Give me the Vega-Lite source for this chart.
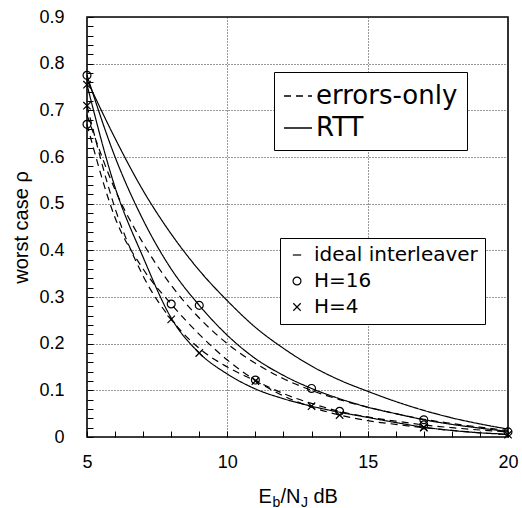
{
  "$schema": "https://vega.github.io/schema/vega-lite/v6.json",
  "width": 421,
  "height": 420,
  "autosize": {"type": "none"},
  "padding": {"left": 87, "top": 17, "right": 14, "bottom": 71},
  "background": "white",
  "config": {
    "font": "Liberation Sans",
    "view": {"stroke": "black", "strokeWidth": 1.6, "fill": "white"},
    "axisX": {
      "titleFont": "Liberation Sans",
      "titleFontWeight": "normal",
      "titleColor": "black",
      "titleAlign": "left",
      "titleBaseline": "alphabetic",
      "titleAnchor": "start"
    }
  },
  "data": {
    "values": [
      {"snr": 5, "rho": 0.765, "decoder": "RTT", "interleaver": "ideal interleaver", "mk": false},
      {"snr": 6, "rho": 0.64, "decoder": "RTT", "interleaver": "ideal interleaver", "mk": false},
      {"snr": 7, "rho": 0.528, "decoder": "RTT", "interleaver": "ideal interleaver", "mk": false},
      {"snr": 8, "rho": 0.435, "decoder": "RTT", "interleaver": "ideal interleaver", "mk": false},
      {"snr": 9, "rho": 0.357, "decoder": "RTT", "interleaver": "ideal interleaver", "mk": false},
      {"snr": 10, "rho": 0.292, "decoder": "RTT", "interleaver": "ideal interleaver", "mk": false},
      {"snr": 11, "rho": 0.235, "decoder": "RTT", "interleaver": "ideal interleaver", "mk": false},
      {"snr": 12, "rho": 0.19, "decoder": "RTT", "interleaver": "ideal interleaver", "mk": false},
      {"snr": 13, "rho": 0.152, "decoder": "RTT", "interleaver": "ideal interleaver", "mk": false},
      {"snr": 14, "rho": 0.122, "decoder": "RTT", "interleaver": "ideal interleaver", "mk": false},
      {"snr": 15, "rho": 0.098, "decoder": "RTT", "interleaver": "ideal interleaver", "mk": false},
      {"snr": 16, "rho": 0.076, "decoder": "RTT", "interleaver": "ideal interleaver", "mk": false},
      {"snr": 17, "rho": 0.057, "decoder": "RTT", "interleaver": "ideal interleaver", "mk": false},
      {"snr": 18, "rho": 0.041, "decoder": "RTT", "interleaver": "ideal interleaver", "mk": false},
      {"snr": 19, "rho": 0.028, "decoder": "RTT", "interleaver": "ideal interleaver", "mk": false},
      {"snr": 20, "rho": 0.017, "decoder": "RTT", "interleaver": "ideal interleaver", "mk": false},

      {"snr": 5, "rho": 0.775, "decoder": "RTT", "interleaver": "H=16", "mk": true},
      {"snr": 6, "rho": 0.6, "decoder": "RTT", "interleaver": "H=16", "mk": false},
      {"snr": 7, "rho": 0.465, "decoder": "RTT", "interleaver": "H=16", "mk": false},
      {"snr": 8, "rho": 0.36, "decoder": "RTT", "interleaver": "H=16", "mk": false},
      {"snr": 9, "rho": 0.282, "decoder": "RTT", "interleaver": "H=16", "mk": true},
      {"snr": 10, "rho": 0.218, "decoder": "RTT", "interleaver": "H=16", "mk": false},
      {"snr": 11, "rho": 0.168, "decoder": "RTT", "interleaver": "H=16", "mk": false},
      {"snr": 12, "rho": 0.132, "decoder": "RTT", "interleaver": "H=16", "mk": false},
      {"snr": 13, "rho": 0.104, "decoder": "RTT", "interleaver": "H=16", "mk": true},
      {"snr": 14, "rho": 0.082, "decoder": "RTT", "interleaver": "H=16", "mk": false},
      {"snr": 15, "rho": 0.064, "decoder": "RTT", "interleaver": "H=16", "mk": false},
      {"snr": 16, "rho": 0.05, "decoder": "RTT", "interleaver": "H=16", "mk": false},
      {"snr": 17, "rho": 0.037, "decoder": "RTT", "interleaver": "H=16", "mk": true},
      {"snr": 18, "rho": 0.027, "decoder": "RTT", "interleaver": "H=16", "mk": false},
      {"snr": 19, "rho": 0.019, "decoder": "RTT", "interleaver": "H=16", "mk": false},
      {"snr": 20, "rho": 0.012, "decoder": "RTT", "interleaver": "H=16", "mk": false},

      {"snr": 5, "rho": 0.755, "decoder": "RTT", "interleaver": "H=4", "mk": true},
      {"snr": 6, "rho": 0.535, "decoder": "RTT", "interleaver": "H=4", "mk": false},
      {"snr": 7, "rho": 0.385, "decoder": "RTT", "interleaver": "H=4", "mk": false},
      {"snr": 8, "rho": 0.255, "decoder": "RTT", "interleaver": "H=4", "mk": false},
      {"snr": 9, "rho": 0.18, "decoder": "RTT", "interleaver": "H=4", "mk": true},
      {"snr": 10, "rho": 0.135, "decoder": "RTT", "interleaver": "H=4", "mk": false},
      {"snr": 11, "rho": 0.103, "decoder": "RTT", "interleaver": "H=4", "mk": false},
      {"snr": 12, "rho": 0.082, "decoder": "RTT", "interleaver": "H=4", "mk": false},
      {"snr": 13, "rho": 0.066, "decoder": "RTT", "interleaver": "H=4", "mk": true},
      {"snr": 14, "rho": 0.053, "decoder": "RTT", "interleaver": "H=4", "mk": false},
      {"snr": 15, "rho": 0.042, "decoder": "RTT", "interleaver": "H=4", "mk": false},
      {"snr": 16, "rho": 0.031, "decoder": "RTT", "interleaver": "H=4", "mk": false},
      {"snr": 17, "rho": 0.021, "decoder": "RTT", "interleaver": "H=4", "mk": true},
      {"snr": 18, "rho": 0.014, "decoder": "RTT", "interleaver": "H=4", "mk": false},
      {"snr": 19, "rho": 0.009, "decoder": "RTT", "interleaver": "H=4", "mk": false},
      {"snr": 20, "rho": 0.006, "decoder": "RTT", "interleaver": "H=4", "mk": false},

      {"snr": 5, "rho": 0.69, "decoder": "errors-only", "interleaver": "ideal interleaver", "mk": false},
      {"snr": 6, "rho": 0.53, "decoder": "errors-only", "interleaver": "ideal interleaver", "mk": false},
      {"snr": 7, "rho": 0.415, "decoder": "errors-only", "interleaver": "ideal interleaver", "mk": false},
      {"snr": 8, "rho": 0.325, "decoder": "errors-only", "interleaver": "ideal interleaver", "mk": false},
      {"snr": 9, "rho": 0.255, "decoder": "errors-only", "interleaver": "ideal interleaver", "mk": false},
      {"snr": 10, "rho": 0.2, "decoder": "errors-only", "interleaver": "ideal interleaver", "mk": false},
      {"snr": 11, "rho": 0.158, "decoder": "errors-only", "interleaver": "ideal interleaver", "mk": false},
      {"snr": 12, "rho": 0.125, "decoder": "errors-only", "interleaver": "ideal interleaver", "mk": false},
      {"snr": 13, "rho": 0.1, "decoder": "errors-only", "interleaver": "ideal interleaver", "mk": false},
      {"snr": 14, "rho": 0.08, "decoder": "errors-only", "interleaver": "ideal interleaver", "mk": false},
      {"snr": 15, "rho": 0.064, "decoder": "errors-only", "interleaver": "ideal interleaver", "mk": false},
      {"snr": 16, "rho": 0.05, "decoder": "errors-only", "interleaver": "ideal interleaver", "mk": false},
      {"snr": 17, "rho": 0.038, "decoder": "errors-only", "interleaver": "ideal interleaver", "mk": false},
      {"snr": 18, "rho": 0.029, "decoder": "errors-only", "interleaver": "ideal interleaver", "mk": false},
      {"snr": 19, "rho": 0.021, "decoder": "errors-only", "interleaver": "ideal interleaver", "mk": false},
      {"snr": 20, "rho": 0.014, "decoder": "errors-only", "interleaver": "ideal interleaver", "mk": false},

      {"snr": 5, "rho": 0.67, "decoder": "errors-only", "interleaver": "H=16", "mk": true},
      {"snr": 6, "rho": 0.47, "decoder": "errors-only", "interleaver": "H=16", "mk": false},
      {"snr": 7, "rho": 0.36, "decoder": "errors-only", "interleaver": "H=16", "mk": false},
      {"snr": 8, "rho": 0.285, "decoder": "errors-only", "interleaver": "H=16", "mk": true},
      {"snr": 9, "rho": 0.22, "decoder": "errors-only", "interleaver": "H=16", "mk": false},
      {"snr": 10, "rho": 0.165, "decoder": "errors-only", "interleaver": "H=16", "mk": false},
      {"snr": 11, "rho": 0.122, "decoder": "errors-only", "interleaver": "H=16", "mk": true},
      {"snr": 12, "rho": 0.093, "decoder": "errors-only", "interleaver": "H=16", "mk": false},
      {"snr": 13, "rho": 0.072, "decoder": "errors-only", "interleaver": "H=16", "mk": false},
      {"snr": 14, "rho": 0.055, "decoder": "errors-only", "interleaver": "H=16", "mk": true},
      {"snr": 15, "rho": 0.043, "decoder": "errors-only", "interleaver": "H=16", "mk": false},
      {"snr": 16, "rho": 0.034, "decoder": "errors-only", "interleaver": "H=16", "mk": false},
      {"snr": 17, "rho": 0.026, "decoder": "errors-only", "interleaver": "H=16", "mk": true},
      {"snr": 18, "rho": 0.02, "decoder": "errors-only", "interleaver": "H=16", "mk": false},
      {"snr": 19, "rho": 0.015, "decoder": "errors-only", "interleaver": "H=16", "mk": false},
      {"snr": 20, "rho": 0.011, "decoder": "errors-only", "interleaver": "H=16", "mk": true},

      {"snr": 5, "rho": 0.71, "decoder": "errors-only", "interleaver": "H=4", "mk": true},
      {"snr": 6, "rho": 0.49, "decoder": "errors-only", "interleaver": "H=4", "mk": false},
      {"snr": 7, "rho": 0.345, "decoder": "errors-only", "interleaver": "H=4", "mk": false},
      {"snr": 8, "rho": 0.252, "decoder": "errors-only", "interleaver": "H=4", "mk": true},
      {"snr": 9, "rho": 0.19, "decoder": "errors-only", "interleaver": "H=4", "mk": false},
      {"snr": 10, "rho": 0.15, "decoder": "errors-only", "interleaver": "H=4", "mk": false},
      {"snr": 11, "rho": 0.12, "decoder": "errors-only", "interleaver": "H=4", "mk": true},
      {"snr": 12, "rho": 0.088, "decoder": "errors-only", "interleaver": "H=4", "mk": false},
      {"snr": 13, "rho": 0.064, "decoder": "errors-only", "interleaver": "H=4", "mk": false},
      {"snr": 14, "rho": 0.047, "decoder": "errors-only", "interleaver": "H=4", "mk": true},
      {"snr": 15, "rho": 0.035, "decoder": "errors-only", "interleaver": "H=4", "mk": false},
      {"snr": 16, "rho": 0.027, "decoder": "errors-only", "interleaver": "H=4", "mk": false},
      {"snr": 17, "rho": 0.02, "decoder": "errors-only", "interleaver": "H=4", "mk": true},
      {"snr": 18, "rho": 0.014, "decoder": "errors-only", "interleaver": "H=4", "mk": false},
      {"snr": 19, "rho": 0.009, "decoder": "errors-only", "interleaver": "H=4", "mk": false},
      {"snr": 20, "rho": 0.005, "decoder": "errors-only", "interleaver": "H=4", "mk": true}
    ]
  },
  "resolve": {"axis": {"x": "independent"}},
  "encoding": {
    "y": {
      "field": "rho",
      "type": "quantitative",
      "scale": {"domain": [0, 0.9], "nice": false},
      "axis": {
        "values": [0, 0.02, 0.04, 0.06, 0.08, 0.1, 0.12, 0.14, 0.16, 0.18, 0.2, 0.22, 0.24, 0.26, 0.28, 0.3, 0.32, 0.34, 0.36, 0.38, 0.4, 0.42, 0.44, 0.46, 0.48, 0.5, 0.52, 0.54, 0.56, 0.58, 0.6, 0.62, 0.64, 0.66, 0.68, 0.7, 0.72, 0.74, 0.76, 0.78, 0.8, 0.82, 0.84, 0.86, 0.88, 0.9],
        "format": ".1~f",
        "labelExpr": "abs(datum.value * 10 - round(datum.value * 10)) < 0.001 ? datum.label : ''",
        "labelFont": "Liberation Sans",
        "labelFontSize": 18,
        "labelColor": "black",
        "labelPadding": 29,
        "labelFlush": false,
        "labelOverlap": false,
        "tickSize": -6,
        "tickColor": "black",
        "tickWidth": 1,
        "domain": false,
        "grid": true,
        "gridColor": "#333333",
        "gridDash": [1, 2],
        "gridWidth": 1,
        "gridOpacity": {"condition": {"test": "abs(datum.value * 10 - round(datum.value * 10)) < 0.001", "value": 1}, "value": 0},
        "title": "worst case ρ",
        "titleFont": "Liberation Sans",
        "titleFontSize": 20,
        "titleFontWeight": "normal",
        "titleColor": "black",
        "titleBaseline": "alphabetic",
        "titleAngle": 270,
        "titleX": -60,
        "titleY": 210
      }
    }
  },
  "layer": [
    {
      "mark": {"type": "line", "interpolate": "monotone", "color": "black", "strokeWidth": 1.2},
      "encoding": {
        "x": {
          "field": "snr",
          "type": "quantitative",
          "scale": {"domain": [5, 20], "nice": false, "zero": false},
          "axis": {
            "orient": "bottom",
            "values": [5, 6, 7, 8, 9, 10, 11, 12, 13, 14, 15, 16, 17, 18, 19, 20],
            "format": "d",
            "labelExpr": "datum.value % 5 === 0 ? datum.label : ''",
            "labelFont": "Liberation Sans",
            "labelFontSize": 18,
            "labelColor": "black",
            "labelPadding": 22,
            "labelFlush": false,
            "labelOverlap": false,
            "tickSize": -6,
            "tickColor": "black",
            "tickWidth": 1,
            "domain": false,
            "grid": true,
            "gridColor": "#333333",
            "gridDash": [1, 2],
            "gridWidth": 1,
            "gridOpacity": {"condition": {"test": "datum.value % 5 === 0", "value": 1}, "value": 0},
            "title": "E",
            "titleFontSize": 20,
            "titleX": 171,
            "titleY": 65
          }
        },
        "detail": [{"field": "decoder"}, {"field": "interleaver"}],
        "strokeDash": {
          "field": "decoder",
          "type": "nominal",
          "scale": {"domain": ["errors-only", "RTT"], "range": [[7, 5], [1, 0]]},
          "legend": {
            "orient": "none",
            "legendX": 187,
            "legendY": 55,
            "title": null,
            "strokeColor": "black",
            "fillColor": "white",
            "padding": 9,
            "labelFont": "DejaVu Sans",
            "labelFontSize": 26,
            "labelColor": "black",
            "labelLimit": 400,
            "labelOffset": 3,
            "symbolType": "stroke",
            "symbolSize": 784,
            "symbolStrokeColor": "black",
            "symbolStrokeWidth": 1.3,
            "symbolOpacity": 1,
            "rowPadding": 4
          }
        }
      }
    },
    {
      "transform": [{"filter": "datum.mk"}],
      "mark": {"type": "point", "filled": false, "color": "black", "opacity": 1, "strokeWidth": 1.2},
      "encoding": {
        "x": {
          "field": "snr",
          "type": "quantitative",
          "axis": {
            "orient": "bottom",
            "ticks": false, "labels": false, "domain": false, "grid": false,
            "title": "b", "titleFontSize": 14, "titleX": 185, "titleY": 69
          }
        },
        "shape": {
          "field": "interleaver",
          "type": "nominal",
          "scale": {
            "domain": ["ideal interleaver", "H=16", "H=4"],
            "range": ["M-1,0L1,0", "circle", "M-1,-1L1,1M-1,1L1,-1"]
          },
          "legend": {
            "orient": "none",
            "legendX": 193,
            "legendY": 221,
            "title": null,
            "strokeColor": "black",
            "fillColor": "white",
            "padding": 7,
            "labelFont": "DejaVu Sans",
            "labelFontSize": 20,
            "labelColor": "black",
            "labelLimit": 400,
            "labelOffset": 7,
            "symbolStrokeColor": "black",
            "symbolStrokeWidth": 1.2,
            "symbolFillColor": "transparent",
            "symbolOpacity": 1,
            "rowPadding": 6
          }
        },
        "size": {
          "field": "interleaver",
          "type": "nominal",
          "scale": {"domain": ["ideal interleaver", "H=16", "H=4"], "range": [70, 55, 90]}
        }
      }
    },
    {
      "transform": [{"filter": "datum.snr > 100"}],
      "mark": {"type": "point"},
      "encoding": {
        "x": {
          "field": "snr",
          "type": "quantitative",
          "axis": {
            "orient": "bottom",
            "ticks": false, "labels": false, "domain": false, "grid": false,
            "title": "/N", "titleFontSize": 20, "titleX": 193, "titleY": 65
          }
        }
      }
    },
    {
      "transform": [{"filter": "datum.snr > 100"}],
      "mark": {"type": "point"},
      "encoding": {
        "x": {
          "field": "snr",
          "type": "quantitative",
          "axis": {
            "orient": "bottom",
            "ticks": false, "labels": false, "domain": false, "grid": false,
            "title": "J", "titleFontSize": 14, "titleX": 213.5, "titleY": 69
          }
        }
      }
    },
    {
      "transform": [{"filter": "datum.snr > 100"}],
      "mark": {"type": "point"},
      "encoding": {
        "x": {
          "field": "snr",
          "type": "quantitative",
          "axis": {
            "orient": "bottom",
            "ticks": false, "labels": false, "domain": false, "grid": false,
            "title": "dB", "titleFontSize": 20, "titleX": 226, "titleY": 65
          }
        }
      }
    }
  ]
}
